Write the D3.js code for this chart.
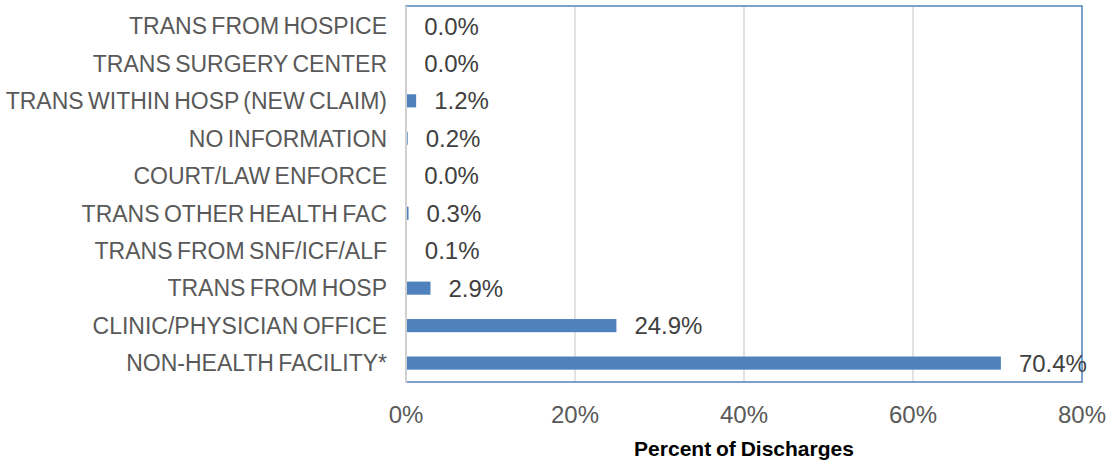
<!DOCTYPE html>
<html>
<head>
<meta charset="utf-8">
<script src="https://cdn.jsdelivr.net/npm/d3@7"></script>
<style>
  body { margin: 0; background: #fff; }
  text { font-family: "Liberation Sans", Arial, sans-serif; }
</style>
</head>
<body>
<script>
let width = 1112;
let height = 461;

// categories top to bottom
let categories = [
  "TRANS FROM HOSPICE",
  "TRANS SURGERY CENTER",
  "TRANS WITHIN HOSP (NEW CLAIM)",
  "NO INFORMATION",
  "COURT/LAW ENFORCE",
  "TRANS OTHER HEALTH FAC",
  "TRANS FROM SNF/ICF/ALF",
  "TRANS FROM HOSP",
  "CLINIC/PHYSICIAN OFFICE",
  "NON-HEALTH FACILITY*"
];
let percents = [0.03, 0.02, 1.2, 0.2, 0.02, 0.3, 0.1, 2.9, 24.9, 70.4];
let tickValues = [0, 20, 40, 60, 80];

let margin = { top: 7, right: 30, bottom: 79, left: 406 };

let svg = d3.select("body").append("svg")
  .attr("width", width)
  .attr("height", height);

let x = d3.scaleLinear().domain([0, 80]).range([margin.left, 1082]);
let y = d3.scaleBand().domain(categories)
  .range([margin.top, 382]).paddingInner(0.65).paddingOuter(0.33);

// gridlines
svg.append("g")
  .selectAll("line")
  .data(tickValues.slice(1, -1))
  .enter().append("line")
  .attr("x1", d => x(d)).attr("x2", d => x(d))
  .attr("y1", margin.top).attr("y2", 382)
  .attr("stroke", "#d9d9d9").attr("stroke-width", 1.5);

// plot area border
svg.append("rect")
  .attr("x", x(0)).attr("y", 6)
  .attr("width", x(80) - x(0)).attr("height", 382 - 6)
  .attr("fill", "none")
  .attr("stroke", "#4f81bd").attr("stroke-width", 1.5);

// bars
svg.append("g")
  .selectAll("rect")
  .data(percents)
  .enter().append("rect")
  .attr("x", x(0))
  .attr("y", (d, i) => y(categories[i]))
  .attr("width", d => x(d) - x(0))
  .attr("height", y.bandwidth())
  .attr("fill", "#4f81bd");

// left axis line
svg.append("line")
  .attr("x1", x(0)).attr("x2", x(0))
  .attr("y1", 6).attr("y2", 383)
  .attr("stroke", "#d0d0d0").attr("stroke-width", 2);

// value labels
svg.append("g")
  .selectAll("text")
  .data(percents)
  .enter().append("text")
  .attr("x", d => x(d) + 18)
  .attr("y", (d, i) => y(categories[i]) + y.bandwidth() / 2)
  .attr("dy", "0.36em")
  .attr("font-size", 24)
  .attr("fill", "#404040")
  .text(d => d.toFixed(1) + "%");

// category labels
svg.append("g")
  .selectAll("text")
  .data(categories)
  .enter().append("text")
  .attr("x", x(0) - 19)
  .attr("y", d => y(d) + y.bandwidth() / 2)
  .attr("dy", "0.36em")
  .attr("text-anchor", "end")
  .attr("font-size", 23)
  .attr("word-spacing", -2)
  .attr("fill", "#595959")
  .text(d => d);

// x tick labels
svg.append("g")
  .selectAll("text")
  .data(tickValues)
  .enter().append("text")
  .attr("x", d => x(d))
  .attr("y", 423)
  .attr("text-anchor", "middle")
  .attr("font-size", 24)
  .attr("fill", "#595959")
  .text(d => d + "%");

// axis title
svg.append("text")
  .attr("x", (x(0) + x(80)) / 2)
  .attr("y", 456)
  .attr("text-anchor", "middle")
  .attr("font-size", 21)
  .attr("font-weight", "bold")
  .attr("word-spacing", -1)
  .attr("fill", "#000")
  .text("Percent of Discharges");
</script>
</body>
</html>
